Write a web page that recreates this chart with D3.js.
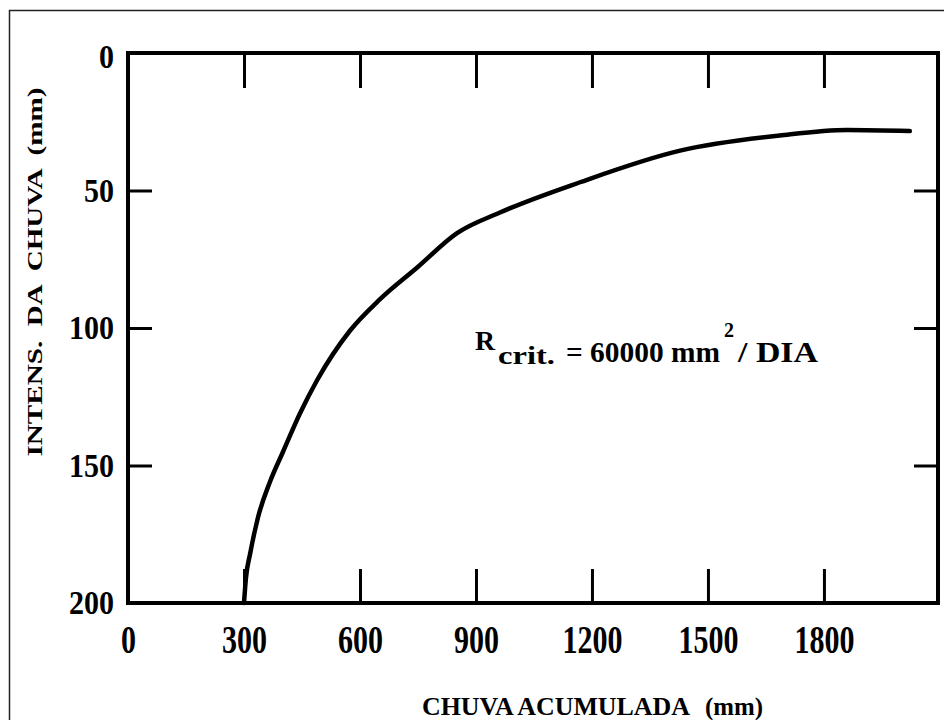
<!DOCTYPE html>
<html>
<head>
<meta charset="utf-8">
<script src="https://cdn.jsdelivr.net/npm/d3@7"></script>
<style>
  html, body { margin: 0; padding: 0; background: #fff; }
  svg { display: block; }
  text { font-family: "Liberation Serif", "Times New Roman", "DejaVu Serif", serif; font-weight: bold; fill: #000; }
</style>
</head>
<body>
<svg id="chart" width="944" height="720"></svg>
<script>
// ---- data ----
const xTicks = [0, 300, 600, 900, 1200, 1500, 1800];
const yTicks = [0, 50, 100, 150, 200];
const rain = [300, 305, 316, 336, 367, 401, 445, 489, 574, 652, 748, 851, 962, 1169, 1428, 1686, 1860, 2022];
const intensity = [200, 191, 182, 169, 156, 145, 131, 119, 101, 89.5, 78, 65.5, 58, 47, 35.5, 30, 28, 28.4];
const xTitleWords = ["CHUVA ACUMULADA", "(mm)"];
const yTitle = "INTENS.  DA  CHUVA  (mm)";

const FONT = '"Liberation Serif", "Times New Roman", "DejaVu Serif", serif';
const svg = d3.select("#chart");
const W = 944, H = 720;
const L = 128, R = 938, T = 53, B = 603;

svg.append("rect").attr("width", W).attr("height", H).attr("fill", "#fff");
// outer thin border of the figure
svg.append("rect").attr("x", 9.5).attr("y", 10.5).attr("width", 1000).attr("height", 1000)
  .attr("fill", "none").attr("stroke", "#222").attr("stroke-width", 1.5);

const x = d3.scaleLinear().domain([0, 2095]).range([L, R]);
const y = d3.scaleLinear().domain([0, 200]).range([T, B]);

function styleAxis(g) {
  g.attr("font-family", FONT);
  g.select(".domain").remove();
  g.selectAll(".tick line").attr("stroke", "#000").attr("stroke-width", 3);
  g.selectAll(".tick text").attr("font-family", FONT).attr("font-weight", "bold").attr("fill", "#000");
}

// bottom axis (ticks pointing up)
const gx = svg.append("g").attr("transform", `translate(0,${B})`)
  .call(d3.axisBottom(x).tickValues(xTicks).tickSize(-34).tickSizeOuter(0).tickPadding(22).tickFormat(d3.format("d")));
styleAxis(gx);
gx.selectAll(".tick").filter(d => d === 0).select("line").remove();
gx.selectAll(".tick text")
  .style("font-size", "39px")
  .attr("textLength", d => String(d).length * 15)
  .attr("lengthAdjust", "spacingAndGlyphs");

// top axis (ticks pointing down)
const gt = svg.append("g").attr("transform", `translate(0,${T})`)
  .call(d3.axisTop(x).tickValues(xTicks.filter(d => d > 0)).tickSize(-35).tickSizeOuter(0).tickFormat(""));
styleAxis(gt);

// left axis (ticks pointing right)
const gy = svg.append("g").attr("transform", `translate(${L},0)`)
  .call(d3.axisLeft(y).tickValues(yTicks).tickSize(-24).tickSizeOuter(0).tickPadding(14).tickFormat(d3.format("d")));
styleAxis(gy);
gy.selectAll(".tick").filter(d => d === 0 || d === 200).select("line").remove();
gy.selectAll(".tick").filter(d => d === 0).select("text").attr("dy", "0.42em");
gy.selectAll(".tick text")
  .style("font-size", "34px")
  .attr("textLength", d => String(d).length * 15)
  .attr("lengthAdjust", "spacingAndGlyphs");

// right axis (ticks pointing left)
const gr = svg.append("g").attr("transform", `translate(${R},0)`)
  .call(d3.axisRight(y).tickValues(yTicks.filter(d => d > 0 && d < 200)).tickSize(-24).tickSizeOuter(0).tickFormat(""));
styleAxis(gr);

// frame
svg.append("rect").attr("x", L).attr("y", T).attr("width", R - L).attr("height", B - T)
  .attr("fill", "none").attr("stroke", "#000").attr("stroke-width", 4);

// curve
const pts = rain.map((r, i) => [r, intensity[i]]);
svg.append("path").datum(pts)
  .attr("d", d3.line().x(d => x(d[0])).y(d => y(d[1])).curve(d3.curveMonotoneX))
  .attr("fill", "none").attr("stroke", "#000").attr("stroke-width", 4.5)
  .attr("stroke-linecap", "round").attr("stroke-linejoin", "round");

// annotation
const ann = svg.append("g").attr("font-family", FONT);
function t(txt, px, py, fs, len) {
  ann.append("text").attr("x", px).attr("y", py).style("font-size", fs + "px")
    .attr("textLength", len).attr("lengthAdjust", "spacingAndGlyphs").text(txt);
}
t("R", 475, 350, 28, 20);
t("crit.", 498, 364, 26, 57);
t("= 60000 mm", 566, 362, 29.4, 154);
t("2", 724, 337, 22, 10);
t("/ DIA", 738, 362, 30, 80);

// x axis title (two word groups)
const xTitlePos = [[422, 268], [705, 58]];
xTitleWords.forEach((w, i) => {
  svg.append("text").attr("font-family", FONT).attr("x", xTitlePos[i][0]).attr("y", 715)
    .style("font-size", "25px").attr("textLength", xTitlePos[i][1])
    .attr("lengthAdjust", "spacingAndGlyphs").text(w);
});

// y axis title (rotated)
svg.append("text").attr("font-family", FONT)
  .attr("transform", "translate(42,272) rotate(-90)")
  .attr("text-anchor", "middle").style("font-size", "21px").style("white-space", "pre")
  .attr("textLength", 369).attr("lengthAdjust", "spacingAndGlyphs").text(yTitle);
</script>
</body>
</html>
